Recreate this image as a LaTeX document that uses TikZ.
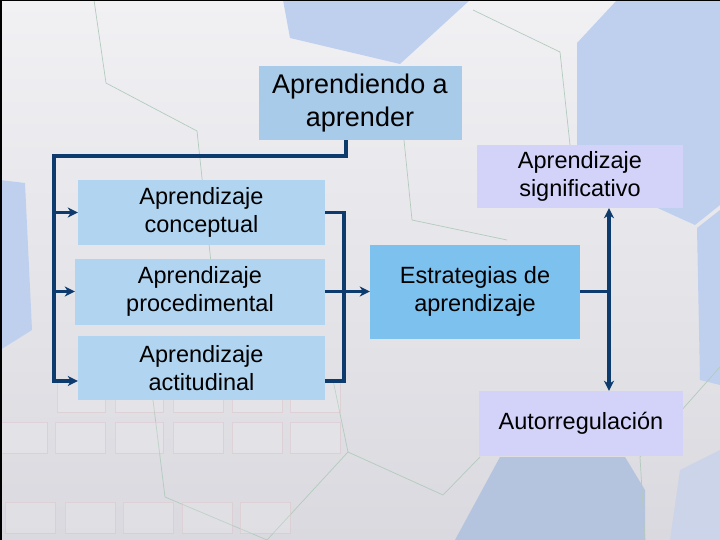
\documentclass[tikz,border=0pt]{standalone}
\usepackage{fontspec}
\setmainfont{Liberation Sans}
\usetikzlibrary{arrows.meta,calc}
\definecolor{navy}{HTML}{0D3B6E}
\definecolor{topblue}{HTML}{A7CBE8}
\definecolor{lightblue}{HTML}{B1D5F1}
\definecolor{midblue}{HTML}{7DC1EE}
\definecolor{lavender}{HTML}{D3D3FA}
\definecolor{hexblue}{HTML}{BFD0EF}
\definecolor{hexline}{HTML}{B3CBBC}
\definecolor{pinkline}{HTML}{DCC6CB}
\definecolor{bgtop}{HTML}{F1F1F4}
\definecolor{bgbot}{HTML}{D9D9DF}
\begin{document}
\begin{tikzpicture}[x=1pt,y=-1pt,
  box/.style={rectangle, inner sep=0pt, align=center, text=black,
    font=\fontsize{23.5}{28}\selectfont},
  conn/.style={draw=navy, line width=3.5pt},
  tipend/.style={-{Stealth[length=10pt,width=10pt,inset=3pt]}},
  tipboth/.style={{Stealth[length=10pt,width=10pt,inset=3pt]}-{Stealth[length=10pt,width=10pt,inset=3pt]}},
  hexface/.style={fill=hexblue, draw=none},
  hexedge/.style={draw=hexline, line width=0.7pt},
  tile/.style={draw=pinkline, draw opacity=0.55, line width=0.8pt, fill=white, fill opacity=0.15}
]
% ---------- background ----------
\useasboundingbox (0,0) rectangle (720,540);
\shade[top color=bgtop, bottom color=bgbot] (0,0) rectangle (720,540);
\fill[hexface] (283,0) -- (470,0) -- (400,64) -- (290,38) -- cycle;
\fill[hexface] (617,0) -- (720,0) -- (720,205) -- (695,225) -- (640,200) -- (577,150) -- (577,43) -- cycle;
\fill[hexface] (697,228) -- (720,210) -- (720,385) -- (700,380) -- cycle;
\fill[hexface] (0,180) -- (25,183) -- (32,330) -- (0,350) -- cycle;
\fill[hexface, fill=hexblue!85!gray] (455,540) -- (500,457) -- (625,457) -- (645,490) -- (645,540) -- cycle;
\fill[hexface, fill=hexblue!55!bgbot] (680,470) -- (720,450) -- (720,540) -- (670,540) -- cycle;
% hexagon edges
\draw[hexedge] (94,0) -- (106,83) -- (197,131) -- (215,300);
\draw[hexedge] (473,10) -- (560,52) -- (570,145);
\draw[hexedge] (403,130) -- (412,220) -- (507,240);
\draw[hexedge] (153,400) -- (165,497) -- (267,540);
\draw[hexedge] (333,380) -- (348,452) -- (443,495) -- (480,457);
\draw[hexedge] (348,452) -- (267,540);
\draw[hexedge] (720,367) -- (640,457) -- (645,540);
% tiles
\foreach \a/\b in {57/105,115/163,173/223,232/282,290/340}
  \draw[tile] (\a,380) rectangle (\b,412);
\foreach \a/\b in {0/47,55/105,115/163,173/223,232/282,290/340}
  \draw[tile] (\a,422) rectangle (\b,453);
\foreach \a/\b in {5/55,65/115,123/173,182/232,240/290}
  \draw[tile] (\a,502) rectangle (\b,533);
% frame edges
\fill[black] (0,0) rectangle (720,1.5);
\fill[black] (0,0) rectangle (2,540);
% ---------- nodes ----------
\node[box, fill=topblue, minimum width=203pt, minimum height=74pt,
  font=\fontsize{27}{33}\selectfont] (top) at (360,103) {Aprendiendo a\\aprender};
\node[box, fill=lightblue, minimum width=247pt, minimum height=65pt] (con) at (201.5,212.5) {Aprendizaje\\conceptual};
\node[box, fill=lightblue, minimum width=250pt, minimum height=66pt] (proc) at (200,291.5) {Aprendizaje\\procedimental};
\node[box, fill=lightblue, minimum width=247pt, minimum height=64pt] (act) at (201.5,368) {Aprendizaje\\actitudinal};
\node[box, fill=midblue, minimum width=210pt, minimum height=94pt] (estr) at (475,291.5) {Estrategias de\\aprendizaje};
\node[box, fill=lavender, minimum width=206pt, minimum height=63pt] (sig) at (580,176.5) {Aprendizaje\\significativo};
\node[box, fill=lavender, minimum width=204pt, minimum height=65pt] (auto) at (581,423.5) {Autorregulación};
% ---------- connectors ----------
\coordinate (drop) at ([xshift=-14pt]top.south);
\coordinate (lbus) at (54,156);
\coordinate (actin) at ([yshift=-13pt]act.west);
\coordinate (actout) at ([yshift=-13pt]act.east);
\coordinate (rbus) at (344,0);
\coordinate (vbus) at (609,0);
\draw[conn, tipend] (drop) |- (lbus) |- (actin);
\draw[conn, tipend] (lbus |- con.west) -- (con.west);
\draw[conn, tipend] (lbus |- proc.west) -- (proc.west);
\draw[conn] (con.east) -| (rbus |- actout) -- (actout);
\draw[conn, tipend] (proc.east) -- (estr.west);
\draw[conn] (estr.east) -- (vbus |- estr.east);
\draw[conn, tipboth] (vbus |- sig.south) -- (vbus |- auto.north);
\end{tikzpicture}
\end{document}
